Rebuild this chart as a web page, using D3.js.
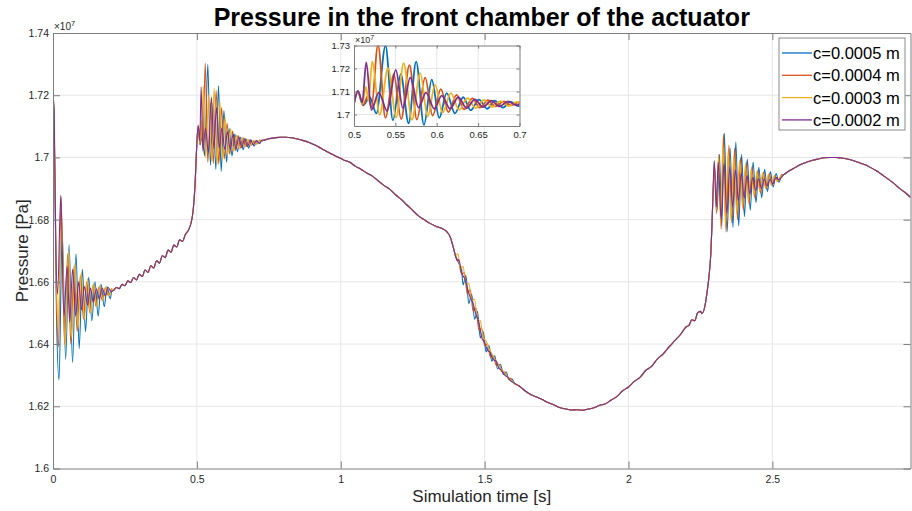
<!DOCTYPE html>
<html>
<head>
<meta charset="utf-8">
<script src="https://cdn.jsdelivr.net/npm/d3@7"></script>
<style>
  html, body { margin: 0; padding: 0; background: #fff; }
  svg { display: block; font-family: "Liberation Sans", Arial, Helvetica, sans-serif; }
</style>
</head>
<body>
<svg id="chart" width="912" height="511"></svg>
<script>
// ---------------------------------------------------------------------------
// Data: pressure in the front chamber (units of 1e7 Pa) against time [s]
// ---------------------------------------------------------------------------
const seriesLabels = ["c=0.0005 m", "c=0.0004 m", "c=0.0003 m", "c=0.0002 m"];

const xTicks = [0, 0.5, 1, 1.5, 2, 2.5];
const yTicks = [1.6, 1.62, 1.64, 1.66, 1.68, 1.7, 1.72, 1.74];
const insetXTicks = [0.5, 0.55, 0.6, 0.65, 0.7];
const insetYTicks = [1.7, 1.71, 1.72, 1.73];

const xLimits = [0, 2.98];
const yLimits = [1.6, 1.74];
const insetXLimits = [0.5, 0.7];
const insetYLimits = [1.695, 1.73];

// Start-up transient, 0 - 0.21 s
const startBlue = [[0,1.72],[0.004,1.711],[0.012,1.650],[0.021,1.6285],[0.032,1.6760],[0.044,1.6350],[0.056,1.6720],[0.068,1.6340],[0.080,1.6690],[0.091,1.6385],[0.102,1.6640],[0.113,1.6440],[0.124,1.6615],[0.135,1.6475],[0.146,1.6600],[0.157,1.6490],[0.167,1.6592],[0.178,1.6520],[0.188,1.6585],[0.199,1.6545],[0.205,1.6575]];
const startOrange = [[0,1.72],[0.004,1.712],[0.011,1.660],[0.019,1.6390],[0.028,1.6874],[0.040,1.6400],[0.051,1.6690],[0.062,1.6400],[0.073,1.6650],[0.084,1.6440],[0.095,1.6620],[0.106,1.6480],[0.117,1.6600],[0.128,1.6500],[0.139,1.6590],[0.150,1.6520],[0.160,1.6585],[0.171,1.6540],[0.182,1.6582],[0.193,1.6555],[0.203,1.6578]];
const startYellow = [[0,1.72],[0.004,1.713],[0.011,1.665],[0.018,1.6450],[0.030,1.6800],[0.042,1.6390],[0.054,1.6700],[0.065,1.6420],[0.076,1.6660],[0.087,1.6450],[0.098,1.6630],[0.109,1.6480],[0.120,1.6610],[0.131,1.6500],[0.141,1.6595],[0.152,1.6520],[0.163,1.6588],[0.174,1.6540],[0.184,1.6585],[0.195,1.6555],[0.204,1.6578]];
const startPurple = [[0,1.72],[0.004,1.715],[0.010,1.670],[0.016,1.6560],[0.027,1.6878],[0.038,1.6490],[0.049,1.6650],[0.058,1.6470],[0.068,1.6640],[0.079,1.6490],[0.089,1.6600],[0.099,1.6510],[0.109,1.6585],[0.120,1.6525],[0.130,1.6580],[0.140,1.6535],[0.151,1.6578],[0.161,1.6545],[0.171,1.6580],[0.182,1.6555],[0.192,1.6582],[0.202,1.6568]];

// Shared slow rise before the first pressure step, 0.21 - 0.497 s
const riseShared = [[0.21,1.6572],[0.22,1.6582],[0.23,1.6578],[0.24,1.6592],[0.25,1.6588],[0.26,1.6603],[0.27,1.6598],[0.28,1.6614],[0.29,1.6606],[0.30,1.6624],[0.31,1.6617],[0.32,1.6638],[0.33,1.6630],[0.34,1.6652],[0.35,1.6645],[0.36,1.6668],[0.37,1.6660],[0.38,1.6684],[0.39,1.6678],[0.40,1.6702],[0.41,1.6695],[0.42,1.6718],[0.43,1.6712],[0.44,1.6735],[0.45,1.6730],[0.46,1.6752],[0.47,1.6765],[0.48,1.6790],[0.485,1.6815],[0.49,1.6860],[0.494,1.6920],[0.497,1.6985]];

// Oscillation after the first pressure step, 0.5 - 0.726 s
const stepBlue = [[0.5,1.7048],[0.5048,1.7098],[0.511,1.7040],[0.519,1.7075],[0.527,1.7005],[0.5381,1.7299],[0.547,1.6975],[0.5565,1.7175],[0.566,1.6962],[0.5751,1.7230],[0.5845,1.6955],[0.594,1.7151],[0.603,1.6985],[0.612,1.7093],[0.622,1.7005],[0.632,1.7075],[0.641,1.7018],[0.651,1.7065],[0.661,1.7025],[0.670,1.7060],[0.680,1.7030],[0.689,1.7056],[0.699,1.7036],[0.708,1.7054],[0.718,1.7044],[0.726,1.7056]];
const stepOrange = [[0.5,1.7048],[0.5048,1.7100],[0.511,1.7042],[0.517,1.7082],[0.521,1.7030],[0.529,1.7303],[0.538,1.6985],[0.548,1.7175],[0.557,1.6980],[0.567,1.7215],[0.576,1.6978],[0.586,1.7160],[0.595,1.6995],[0.605,1.7110],[0.614,1.7010],[0.624,1.7085],[0.633,1.7022],[0.643,1.7070],[0.652,1.7030],[0.662,1.7062],[0.671,1.7035],[0.681,1.7057],[0.690,1.7040],[0.699,1.7053],[0.709,1.7044],[0.719,1.7056],[0.726,1.7052]];
const stepYellow = [[0.5,1.7048],[0.5048,1.7102],[0.510,1.7046],[0.5145,1.7120],[0.5175,1.7060],[0.522,1.7230],[0.531,1.6999],[0.541,1.7201],[0.551,1.6988],[0.560,1.7223],[0.570,1.6977],[0.580,1.7180],[0.589,1.6991],[0.598,1.7129],[0.607,1.7008],[0.617,1.7093],[0.627,1.7020],[0.637,1.7071],[0.647,1.7028],[0.657,1.7064],[0.667,1.7033],[0.677,1.7058],[0.687,1.7037],[0.697,1.7055],[0.707,1.7042],[0.717,1.7056],[0.726,1.7053]];
const stepPurple = [[0.5,1.7048],[0.5048,1.7103],[0.510,1.7052],[0.5148,1.7226],[0.521,1.7020],[0.530,1.7095],[0.540,1.7015],[0.5505,1.7194],[0.559,1.7028],[0.568,1.7160],[0.578,1.7030],[0.587,1.7095],[0.597,1.7025],[0.606,1.7082],[0.616,1.7025],[0.626,1.7075],[0.636,1.7028],[0.646,1.7066],[0.656,1.7032],[0.666,1.7060],[0.676,1.7035],[0.686,1.7057],[0.696,1.7040],[0.706,1.7054],[0.716,1.7046],[0.726,1.7055]];

// Shared plateau and slow decline, 0.73 - 1.39 s
const plateauShared = [[0.73,1.7055],[0.75,1.7060],[0.77,1.7063],[0.79,1.7065],[0.81,1.7065],[0.83,1.7063],[0.85,1.7059],[0.87,1.7054],[0.89,1.7048],[0.91,1.7040],[0.93,1.7030],[0.95,1.7020],[0.97,1.7010],[0.99,1.7001],[1.01,1.6992],[1.03,1.6985],[1.05,1.6972],[1.07,1.6962],[1.09,1.6950],[1.11,1.6940],[1.13,1.6925],[1.15,1.6910],[1.17,1.6898],[1.19,1.6880],[1.21,1.6865],[1.23,1.6847],[1.25,1.6830],[1.27,1.6812],[1.29,1.6800],[1.31,1.6788],[1.33,1.6779],[1.35,1.6772],[1.37,1.6760],[1.38,1.6745],[1.39,1.6715]];

// Ripple on the steep drop, 1.40 - 1.605 s
const dropBlue = [[1.40,1.6680],[1.41,1.6660],[1.42,1.6640],[1.425,1.6590],[1.435,1.6620],[1.445,1.6530],[1.455,1.6560],[1.465,1.6480],[1.475,1.6505],[1.485,1.6420],[1.495,1.6440],[1.505,1.6375],[1.515,1.6395],[1.525,1.6345],[1.535,1.6362],[1.545,1.6320],[1.555,1.6335],[1.565,1.6302],[1.575,1.6310],[1.585,1.6285],[1.595,1.6288],[1.605,1.6272]];
const dropOrange = [[1.40,1.6680],[1.41,1.6665],[1.42,1.6625],[1.43,1.6630],[1.44,1.6560],[1.45,1.6575],[1.46,1.6505],[1.47,1.6515],[1.48,1.6445],[1.49,1.6450],[1.50,1.6395],[1.51,1.6400],[1.52,1.6358],[1.53,1.6362],[1.54,1.6332],[1.55,1.6335],[1.56,1.6310],[1.57,1.6310],[1.58,1.6292],[1.59,1.6290],[1.60,1.6276]];
const dropYellow = [[1.40,1.6685],[1.408,1.6690],[1.415,1.6640],[1.425,1.6650],[1.435,1.6590],[1.445,1.6595],[1.455,1.6540],[1.465,1.6545],[1.475,1.6480],[1.485,1.6475],[1.495,1.6420],[1.505,1.6410],[1.515,1.6385],[1.525,1.6370],[1.535,1.6352],[1.545,1.6340],[1.555,1.6322],[1.565,1.6312],[1.575,1.6300],[1.585,1.6290],[1.595,1.6282],[1.605,1.6272]];
const dropPurple = [[1.40,1.6680],[1.405,1.6668],[1.41,1.6672],[1.42,1.6628],[1.43,1.6612],[1.44,1.6580],[1.45,1.6550],[1.46,1.6530],[1.47,1.6495],[1.48,1.6470],[1.49,1.6420],[1.50,1.6405],[1.51,1.6380],[1.52,1.6372],[1.53,1.6350],[1.54,1.6345],[1.55,1.6322],[1.56,1.6315],[1.57,1.6300],[1.58,1.6294],[1.59,1.6282],[1.60,1.6276]];

// Shared trough and recovery, 1.62 - 2.29 s
const troughShared = [[1.62,1.6265],[1.64,1.6250],[1.66,1.6238],[1.68,1.6230],[1.70,1.6222],[1.72,1.6212],[1.74,1.6205],[1.76,1.6196],[1.78,1.6192],[1.80,1.6188],[1.82,1.6189],[1.84,1.6187],[1.86,1.6191],[1.88,1.6195],[1.90,1.6203],[1.92,1.6208],[1.94,1.6220],[1.96,1.6232],[1.98,1.6250],[2.00,1.6262],[2.02,1.6280],[2.04,1.6293],[2.06,1.6315],[2.08,1.6328],[2.10,1.6352],[2.12,1.6368],[2.14,1.6390],[2.16,1.6410],[2.18,1.6430],[2.20,1.6455],[2.21,1.6460],[2.22,1.6478],[2.23,1.6475],[2.24,1.6500],[2.25,1.6505],[2.255,1.6498],[2.265,1.6520],[2.272,1.6560],[2.280,1.6620],[2.286,1.6690],[2.290,1.6780]];

// Oscillation after the second pressure step, 2.293 - 2.533 s
const secondBlue = [[2.293,1.6865],[2.300,1.6960],[2.308,1.6830],[2.316,1.7010],[2.324,1.6780],[2.333,1.7078],[2.343,1.6762],[2.353,1.7030],[2.363,1.6775],[2.373,1.7050],[2.383,1.6780],[2.393,1.7010],[2.403,1.6810],[2.413,1.6995],[2.423,1.6830],[2.433,1.6985],[2.443,1.6855],[2.453,1.6968],[2.463,1.6870],[2.473,1.6962],[2.483,1.6890],[2.493,1.6955],[2.503,1.6905],[2.513,1.6948],[2.523,1.6920],[2.533,1.6945]];
const secondOrange = [[2.293,1.6865],[2.299,1.6975],[2.306,1.6820],[2.314,1.7010],[2.322,1.6770],[2.330,1.7075],[2.339,1.6760],[2.349,1.7040],[2.359,1.6790],[2.369,1.7030],[2.379,1.6800],[2.389,1.7000],[2.399,1.6830],[2.409,1.6985],[2.419,1.6850],[2.429,1.6970],[2.439,1.6870],[2.449,1.6958],[2.459,1.6885],[2.469,1.6952],[2.479,1.6898],[2.489,1.6948],[2.499,1.6910],[2.509,1.6942],[2.519,1.6922],[2.529,1.6940]];
const secondYellow = [[2.293,1.6865],[2.298,1.6985],[2.305,1.6830],[2.313,1.7005],[2.320,1.6790],[2.328,1.7040],[2.337,1.6780],[2.346,1.7020],[2.356,1.6800],[2.366,1.7005],[2.376,1.6820],[2.386,1.6990],[2.396,1.6840],[2.406,1.6975],[2.416,1.6860],[2.426,1.6962],[2.436,1.6878],[2.446,1.6955],[2.456,1.6890],[2.466,1.6950],[2.476,1.6900],[2.486,1.6945],[2.496,1.6910],[2.506,1.6940],[2.516,1.6922],[2.526,1.6937]];
const secondPurple = [[2.293,1.6865],[2.298,1.6990],[2.305,1.6840],[2.312,1.6985],[2.322,1.6800],[2.332,1.6980],[2.342,1.6820],[2.352,1.6970],[2.362,1.6840],[2.372,1.6960],[2.382,1.6860],[2.392,1.6950],[2.402,1.6870],[2.412,1.6942],[2.422,1.6882],[2.432,1.6936],[2.442,1.6893],[2.452,1.6932],[2.462,1.6900],[2.472,1.6930],[2.482,1.6908],[2.492,1.6930],[2.502,1.6915],[2.512,1.6935],[2.522,1.6928]];

// Shared final hump, 2.54 - 2.98 s
const humpShared = [[2.54,1.6945],[2.56,1.6958],[2.58,1.6968],[2.60,1.6978],[2.62,1.6985],[2.64,1.6991],[2.66,1.6995],[2.68,1.6999],[2.70,1.7000],[2.72,1.7000],[2.74,1.6998],[2.76,1.6995],[2.78,1.6990],[2.80,1.6984],[2.82,1.6977],[2.84,1.6968],[2.86,1.6958],[2.88,1.6945],[2.90,1.6932],[2.92,1.6918],[2.94,1.6902],[2.96,1.6888],[2.98,1.6872]];

// ---------------------------------------------------------------------------
// Styling (MATLAB default line colours)
// ---------------------------------------------------------------------------
const lineColors = ["#0072BD", "#D95319", "#EDB120", "#7E2F8E"];
const axisColor = "#7d7d7d";
const textColor = "#262626";
const gridColor = "#e6e6e6";

function joinSegments(start, step, drop, second) {
  return [].concat(start, riseShared, step, plateauShared, drop, troughShared, second, humpShared);
}
const series = [
  joinSegments(startBlue, stepBlue, dropBlue, secondBlue),
  joinSegments(startOrange, stepOrange, dropOrange, secondOrange),
  joinSegments(startYellow, stepYellow, dropYellow, secondYellow),
  joinSegments(startPurple, stepPurple, dropPurple, secondPurple)
];

const svg = d3.select("#chart");
const plot = { left: 53, right: 910.5, top: 33, bottom: 468.5 };
const x = d3.scaleLinear().domain(xLimits).range([plot.left, plot.right]);
const y = d3.scaleLinear().domain(yLimits).range([plot.bottom, plot.top]);
const fmt = v => String(+v.toFixed(2));

// Grid
const grid = svg.append("g");
grid.selectAll(".gx").data(xTicks.slice(1)).join("line")
  .attr("x1", d => x(d)).attr("x2", d => x(d))
  .attr("y1", plot.top).attr("y2", plot.bottom)
  .attr("stroke", gridColor).attr("stroke-width", 1);
grid.selectAll(".gy").data(yTicks.slice(1, -1)).join("line")
  .attr("x1", plot.left).attr("x2", plot.right)
  .attr("y1", d => y(d)).attr("y2", d => y(d))
  .attr("stroke", gridColor).attr("stroke-width", 1);

// Data lines
svg.append("clipPath").attr("id", "plotClip").append("rect")
  .attr("x", plot.left).attr("y", plot.top)
  .attr("width", plot.right - plot.left).attr("height", plot.bottom - plot.top);

const line = d3.line().x(d => x(d[0])).y(d => y(d[1])).curve(d3.curveMonotoneX);
svg.append("g").attr("clip-path", "url(#plotClip)")
  .selectAll("path").data(series).join("path")
  .attr("d", line)
  .attr("fill", "none")
  .attr("stroke", (d, i) => lineColors[i])
  .attr("stroke-width", 1.1)
  .attr("stroke-linejoin", "round");

// Axes (ticks pointing inwards, box on)
function styleAxis(g, fontSize) {
  g.attr("color", axisColor);
  g.select(".domain").attr("stroke-width", 1);
  g.selectAll("text").attr("fill", textColor).attr("font-size", fontSize)
    .attr("font-family", "Liberation Sans, Arial, sans-serif");
}
svg.append("g").attr("transform", `translate(0,${plot.bottom})`)
  .call(d3.axisBottom(x).tickValues(xTicks).tickFormat(fmt).tickSize(-7).tickSizeOuter(0).tickPadding(7))
  .call(g => styleAxis(g, 10.5));
svg.append("g").attr("transform", `translate(0,${plot.top})`)
  .call(d3.axisTop(x).tickValues(xTicks).tickFormat("").tickSize(-7).tickSizeOuter(0))
  .call(g => styleAxis(g, 10.5));
svg.append("g").attr("transform", `translate(${plot.left},0)`)
  .call(d3.axisLeft(y).tickValues(yTicks).tickFormat(fmt).tickSize(-7).tickSizeOuter(0).tickPadding(4))
  .call(g => styleAxis(g, 10.5));
svg.append("g").attr("transform", `translate(${plot.right},0)`)
  .call(d3.axisRight(y).tickValues(yTicks).tickFormat("").tickSize(-7).tickSizeOuter(0))
  .call(g => styleAxis(g, 10.5));

// Exponent label
const expMain = svg.append("text").attr("x", plot.left + 1).attr("y", 30)
  .attr("fill", textColor).attr("font-size", 10);
expMain.append("tspan").text("×10");
expMain.append("tspan").attr("dy", -4).attr("font-size", 7.5).text("7");

// Title and axis labels
svg.append("text").attr("x", (plot.left + plot.right) / 2).attr("y", 26)
  .attr("text-anchor", "middle").attr("font-weight", "bold").attr("font-size", 25)
  .attr("fill", "#000").text("Pressure in the front chamber of the actuator");
svg.append("text").attr("x", (plot.left + plot.right) / 2).attr("y", 502)
  .attr("text-anchor", "middle").attr("font-size", 17).attr("fill", textColor)
  .text("Simulation time [s]");
svg.append("text").attr("transform", `translate(28,${(plot.top + plot.bottom) / 2}) rotate(-90)`)
  .attr("text-anchor", "middle").attr("font-size", 17).attr("fill", textColor)
  .text("Pressure [Pa]");

// ---------------------------------------------------------------------------
// Inset: detail of the first step response
// ---------------------------------------------------------------------------
const inset = { left: 354, right: 519.5, top: 45.5, bottom: 126 };
const xi = d3.scaleLinear().domain(insetXLimits).range([inset.left, inset.right]);
const yi = d3.scaleLinear().domain(insetYLimits).range([inset.bottom, inset.top]);
const ig = svg.append("g");
ig.append("rect").attr("x", inset.left).attr("y", inset.top)
  .attr("width", inset.right - inset.left).attr("height", inset.bottom - inset.top)
  .attr("fill", "#fff");
ig.selectAll(".igx").data(insetXTicks.slice(1, -1)).join("line")
  .attr("x1", d => xi(d)).attr("x2", d => xi(d))
  .attr("y1", inset.top).attr("y2", inset.bottom)
  .attr("stroke", gridColor);
ig.selectAll(".igy").data(insetYTicks.slice(0, -1)).join("line")
  .attr("x1", inset.left).attr("x2", inset.right)
  .attr("y1", d => yi(d)).attr("y2", d => yi(d))
  .attr("stroke", gridColor);
ig.append("clipPath").attr("id", "insetClip").append("rect")
  .attr("x", inset.left).attr("y", inset.top)
  .attr("width", inset.right - inset.left).attr("height", inset.bottom - inset.top);
const insetLine = d3.line().x(d => xi(d[0])).y(d => yi(d[1])).curve(d3.curveMonotoneX);
ig.append("g").attr("clip-path", "url(#insetClip)")
  .selectAll("path").data(series).join("path")
  .attr("d", d => insetLine(d.filter(p => p[0] >= 0.49 && p[0] <= 0.74)))
  .attr("fill", "none")
  .attr("stroke", (d, i) => lineColors[i])
  .attr("stroke-width", 1.8)
  .attr("stroke-linejoin", "round");
ig.append("g").attr("transform", `translate(0,${inset.bottom})`)
  .call(d3.axisBottom(xi).tickValues(insetXTicks).tickFormat(fmt).tickSize(-3).tickSizeOuter(0).tickPadding(5))
  .call(g => styleAxis(g, 9.5));
ig.append("g").attr("transform", `translate(0,${inset.top})`)
  .call(d3.axisTop(xi).tickValues(insetXTicks).tickFormat("").tickSize(-3).tickSizeOuter(0))
  .call(g => styleAxis(g, 9.5));
ig.append("g").attr("transform", `translate(${inset.left},0)`)
  .call(d3.axisLeft(yi).tickValues(insetYTicks).tickFormat(fmt).tickSize(-3).tickSizeOuter(0).tickPadding(4))
  .call(g => styleAxis(g, 9.5));
ig.append("g").attr("transform", `translate(${inset.right},0)`)
  .call(d3.axisRight(yi).tickValues(insetYTicks).tickFormat("").tickSize(-3).tickSizeOuter(0))
  .call(g => styleAxis(g, 9.5));
const expInset = ig.append("text").attr("x", inset.left + 1).attr("y", 43)
  .attr("fill", textColor).attr("font-size", 9);
expInset.append("tspan").text("×10");
expInset.append("tspan").attr("dy", -3.5).attr("font-size", 7).text("7");

// ---------------------------------------------------------------------------
// Legend
// ---------------------------------------------------------------------------
const legend = svg.append("g").attr("transform", "translate(779,38)");
legend.append("rect").attr("width", 126).attr("height", 92)
  .attr("fill", "#fff").attr("stroke", "#8a8a8a").attr("stroke-width", 1);
const rows = legend.selectAll("g.row").data(seriesLabels).join("g")
  .attr("transform", (d, i) => `translate(0,${15 + i * 22.3})`);
rows.append("line").attr("x1", 3).attr("x2", 33).attr("y1", 0).attr("y2", 0)
  .attr("stroke", (d, i) => lineColors[i]).attr("stroke-width", 1.3);
rows.append("text").attr("x", 34).attr("y", 6).attr("font-size", 16.5)
  .attr("fill", "#000").text(d => d);
</script>
</body>
</html>
